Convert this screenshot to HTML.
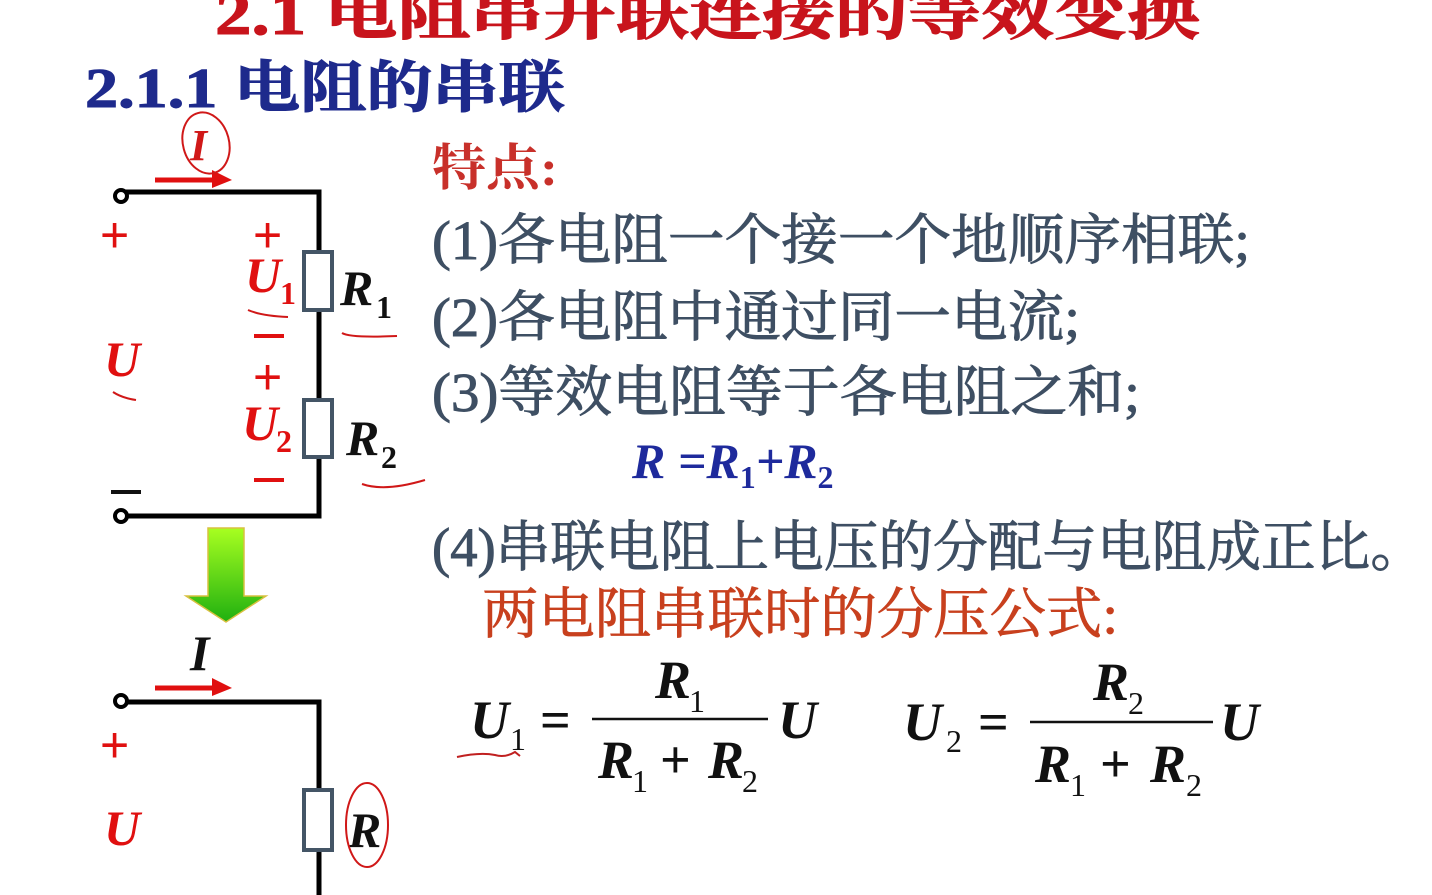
<!DOCTYPE html>
<html><head><meta charset="utf-8"><style>
html,body{margin:0;padding:0;background:#fff;width:1432px;height:895px;overflow:hidden}
svg{display:block}
.cn{font-family:"Liberation Serif","Noto Serif CJK SC","Noto Sans CJK SC",serif}
.m{font-family:"Liberation Serif",serif;font-style:italic;font-weight:bold}
</style></head><body>
<svg width="1432" height="895" viewBox="0 0 1432 895" xmlns="http://www.w3.org/2000/svg">
<text x="215" y="34" class="cn" font-size="60" font-weight="bold" fill="#c8141c" stroke="#c8141c" stroke-width="1" textLength="985" lengthAdjust="spacingAndGlyphs">2.1 电阻串并联连接的等效变换</text>
<text x="85" y="107" class="cn" font-size="56" font-weight="bold" fill="#1e2a8c" stroke="#1e2a8c" stroke-width="1" textLength="480" lengthAdjust="spacingAndGlyphs">2.1.1 电阻的串联</text>
<text x="432" y="185" class="cn" font-size="50" font-weight="bold" fill="#c8302a" textLength="126" lengthAdjust="spacingAndGlyphs">特点:</text>
<g fill="#3e4f63" stroke="#3e4f63" stroke-width="0.9" class="cn" font-size="55">
<text x="432" y="259" textLength="818" lengthAdjust="spacingAndGlyphs">(1)各电阻一个接一个地顺序相联;</text>
<text x="432" y="336" textLength="648" lengthAdjust="spacingAndGlyphs">(2)各电阻中通过同一电流;</text>
<text x="432" y="411" textLength="708" lengthAdjust="spacingAndGlyphs">(3)等效电阻等于各电阻之和;</text>
<text x="432" y="566" textLength="993" lengthAdjust="spacingAndGlyphs">(4)串联电阻上电压的分配与电阻成正比。</text>
</g>
<text x="482" y="633" class="cn" font-size="55" fill="#c8401e" stroke="#c8401e" stroke-width="0.8" textLength="636" lengthAdjust="spacingAndGlyphs">两电阻串联时的分压公式:</text>
<text x="632" y="478" class="m" font-size="50" fill="#1e2a9c">R =R<tspan font-size="32" dy="10" font-style="normal">1</tspan><tspan dy="-10">+R</tspan><tspan font-size="32" dy="10" font-style="normal">2</tspan></text>
<g class="m" font-size="54" fill="#111">
<text x="470" y="738">U</text><text x="510" y="750" font-size="32" font-style="normal" font-weight="normal">1</text>
<text x="540" y="738" font-style="normal">=</text>
<text x="655" y="698">R</text><text x="689" y="712" font-size="32" font-style="normal" font-weight="normal">1</text>
<text x="598" y="778">R</text><text x="632" y="792" font-size="32" font-style="normal" font-weight="normal">1</text>
<text x="660" y="778" font-style="normal">+</text>
<text x="708" y="778">R</text><text x="742" y="792" font-size="32" font-style="normal" font-weight="normal">2</text>
<text x="778" y="738">U</text>
<text x="903" y="740">U</text><text x="946" y="752" font-size="32" font-style="normal" font-weight="normal">2</text>
<text x="978" y="740" font-style="normal">=</text>
<text x="1093" y="700">R</text><text x="1128" y="714" font-size="32" font-style="normal" font-weight="normal">2</text>
<text x="1035" y="782">R</text><text x="1070" y="796" font-size="32" font-style="normal" font-weight="normal">1</text>
<text x="1100" y="782" font-style="normal">+</text>
<text x="1150" y="782">R</text><text x="1186" y="796" font-size="32" font-style="normal" font-weight="normal">2</text>
<text x="1220" y="740">U</text>
</g>
<line x1="592" y1="719" x2="768" y2="719" stroke="#111" stroke-width="2.5"/>
<line x1="1030" y1="722" x2="1213" y2="722" stroke="#111" stroke-width="2.5"/>
<path d="M457 757 Q480 752 495 755 Q505 758 515 752 L520 756" stroke="#c02020" stroke-width="2" fill="none"/>
<path d="M125 192 H319 V516 H125" stroke="#000" stroke-width="5" fill="none"/>
<circle cx="121" cy="196" r="6" fill="#fff" stroke="#000" stroke-width="4"/>
<circle cx="121" cy="516" r="6" fill="#fff" stroke="#000" stroke-width="4"/>
<rect x="304" y="252" width="28" height="58" fill="#fff" stroke="#445566" stroke-width="4"/>
<rect x="304" y="400" width="28" height="57" fill="#fff" stroke="#445566" stroke-width="4"/>
<path d="M155 180 H215" stroke="#e01010" stroke-width="5"/><path d="M212 170 L232 180 L212 188 Z" fill="#e01010"/>
<text x="190" y="160" class="m" font-size="44" fill="#d01818">I</text>
<ellipse cx="206" cy="143" rx="23" ry="31" fill="none" stroke="#d01818" stroke-width="2" transform="rotate(-15 206 143)"/>
<g fill="#e01010" font-family="Liberation Sans,sans-serif" font-size="50">
<text x="100" y="252">+</text><text x="253" y="252">+</text><text x="253" y="394">+</text>
<text x="100" y="762">+</text>
</g>
<rect x="254" y="334" width="30" height="4" fill="#e01010"/>
<rect x="254" y="478" width="30" height="4" fill="#e01010"/>
<rect x="111" y="490" width="30" height="4" fill="#111"/>
<g class="m" font-size="50" fill="#e01010">
<text x="245" y="292">U</text><text x="280" y="304" font-size="32" font-style="normal">1</text>
<text x="242" y="440">U</text><text x="276" y="452" font-size="32" font-style="normal">2</text>
<text x="104" y="376">U</text>
<text x="104" y="845">U</text>
</g>
<g class="m" font-size="50" fill="#111">
<text x="340" y="305">R</text><text x="376" y="318" font-size="32" font-style="normal">1</text>
<text x="346" y="455">R</text><text x="381" y="468" font-size="32" font-style="normal">2</text>
<text x="190" y="670">I</text>
<text x="348" y="847">R</text>
</g>
<g stroke="#d01818" stroke-width="2" fill="none">
<path d="M248 310 Q262 316 288 317"/><path d="M342 333 Q350 338 397 336"/>
<path d="M362 484 Q385 492 425 480"/><path d="M113 392 Q122 398 136 400"/>
<ellipse cx="367" cy="825" rx="21" ry="42"/>
</g>
<defs><linearGradient id="g" x1="0" y1="0" x2="0" y2="1"><stop offset="0" stop-color="#a8ff20"/><stop offset="1" stop-color="#20b010"/></linearGradient></defs>
<path d="M208 528 H244 V596 H266 L226 622 L186 596 H208 Z" fill="url(#g)" stroke="#d8c040" stroke-width="1.5"/>
<path d="M155 688 H215" stroke="#e01010" stroke-width="5"/><path d="M212 678 L232 688 L212 696 Z" fill="#e01010"/>
<path d="M125 702 H319 V895" stroke="#000" stroke-width="5" fill="none"/>
<circle cx="121" cy="701" r="6" fill="#fff" stroke="#000" stroke-width="4"/>
<rect x="304" y="790" width="28" height="60" fill="#fff" stroke="#445566" stroke-width="4"/>
</svg>
</body></html>
